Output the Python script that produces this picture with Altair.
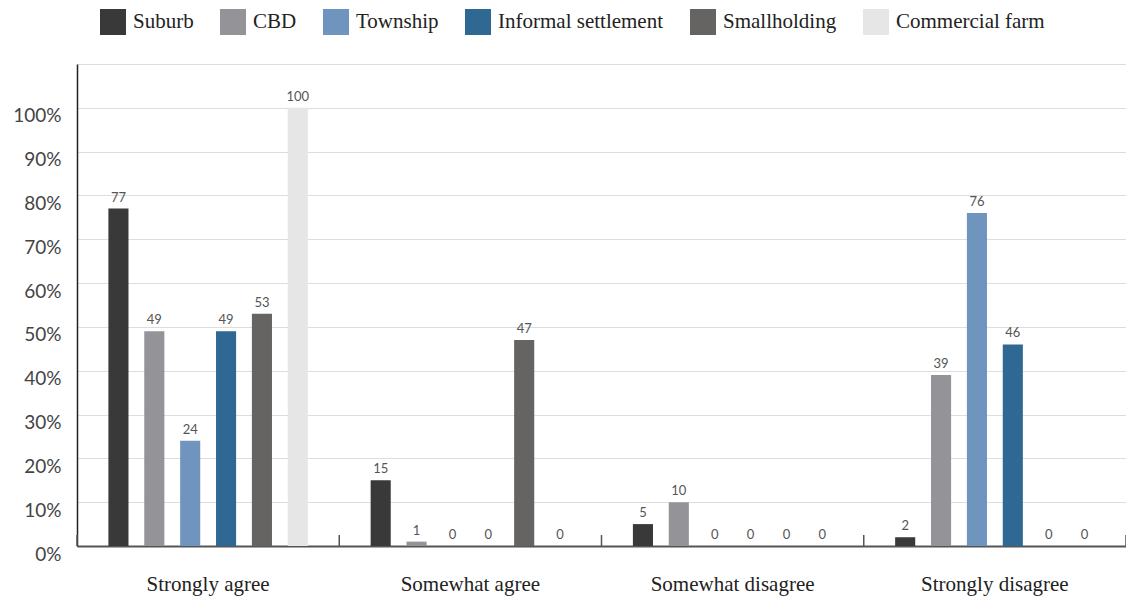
import altair as alt
import pandas as pd

categories = ["Strongly agree", "Somewhat agree", "Somewhat disagree", "Strongly disagree"]
series = ["Suburb", "CBD", "Township", "Informal settlement", "Smallholding", "Commercial farm"]
colors = ["#393939", "#949398", "#6f95bf", "#2e6893", "#656463", "#e6e6e6"]

suburb = [77, 15, 5, 2]
cbd = [49, 1, 10, 39]
township = [24, 0, 0, 76]
informal = [49, 0, 0, 46]
smallholding = [53, 47, 0, 0]
commercial = [100, 0, 0, 0]

y_ticks = [0, 10, 20, 30, 40, 50, 60, 70, 80, 90, 100, 110]

values = [suburb, cbd, township, informal, smallholding, commercial]
rows = []
for s, vals in zip(series, values):
    for c, v in zip(categories, vals):
        rows.append({"cat": c, "series": s, "value": v})
df = pd.DataFrame(rows)

ticks_df = pd.DataFrame({"cat": categories})
end_df = pd.DataFrame({"cat": [categories[-1]]})

sans = "Lato"
serif = "Liberation Serif"

x_enc = alt.X(
    "cat:N",
    sort=categories,
    scale=alt.Scale(paddingInner=0, paddingOuter=0),
    axis=alt.Axis(
        title=None,
        labelFont=serif,
        labelFontSize=21,
        labelColor="#222222",
        labelPadding=27,
        labelAngle=0,
        labelLimit=0,
        ticks=False,
        domainColor="#555555",
        domainWidth=2,
        grid=False,
    ),
)

y_enc = alt.Y(
    "value:Q",
    scale=alt.Scale(domain=[0, 110], nice=False),
    axis=alt.Axis(
        title=None,
        values=y_ticks,
        labelExpr="datum.value > 100 ? '' : datum.value + '%'",
        labelFont=sans,
        labelFontSize=19,
        labelColor="#444444",
        labelPadding=16,
        labelOffset=8,
        ticks=False,
        domainColor="#222222",
        domainWidth=1.5,
        grid=True,
        gridColor="#dddddd",
        gridWidth=1,
    ),
)

xoff = alt.XOffset(
    "series:N",
    sort=series,
    scale=alt.Scale(paddingInner=0.44, paddingOuter=0.875),
)

bars = alt.Chart(df).mark_bar().encode(
    x=x_enc,
    xOffset=xoff,
    y=y_enc,
    color=alt.Color(
        "series:N",
        sort=series,
        scale=alt.Scale(domain=series, range=colors),
        legend=alt.Legend(
            title=None,
            orient="none",
            legendX=23,
            legendY=-55,
            direction="horizontal",
            symbolType="square",
            symbolSize=676,
            symbolStrokeWidth=0,
            symbolOpacity=1,
            labelFont=serif,
            labelFontSize=21,
            labelColor="#222222",
            labelOffset=7,
            labelLimit=0,
            columnPadding=26,
            padding=0,
        ),
    ),
)

labels = alt.Chart(df).mark_text(
    baseline="bottom", dy=-4, font=sans, fontSize=13, color="#555555"
).encode(
    x=alt.X("cat:N", sort=categories),
    xOffset=xoff,
    y="value:Q",
    text="value:Q",
)

tick_rules = alt.Chart(ticks_df).mark_rule(color="#555555", strokeWidth=1.5).encode(
    x=alt.X("cat:N", sort=categories, bandPosition=0),
    y=alt.datum(0),
    y2=alt.datum(2.5),
)

end_rule = alt.Chart(end_df).mark_rule(color="#555555", strokeWidth=1.5).encode(
    x=alt.X("cat:N", sort=categories, bandPosition=1),
    y=alt.datum(0),
    y2=alt.datum(2.5),
)

chart = alt.layer(bars, labels, tick_rules, end_rule).properties(
    width=1049,
    height=482,
    autosize=alt.AutoSizeParams(type="none"),
    padding={"left": 69, "top": 56, "right": 0, "bottom": 54},
).configure_view(stroke=None)

chart.save("out.html", embed_options={"renderer": "svg", "actions": False})
